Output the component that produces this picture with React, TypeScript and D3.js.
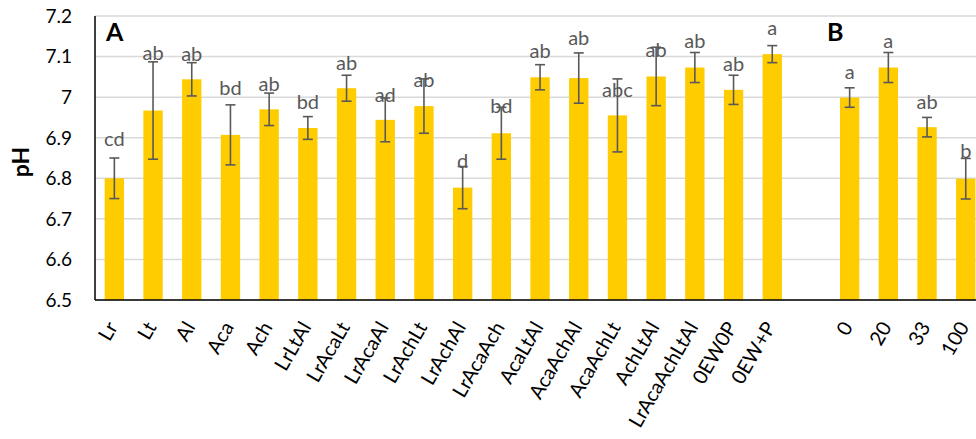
import React from 'react';
import * as d3 from 'd3';

const groupA = ['Lr','Lt','Al','Aca','Ach','LrLtAl','LrAcaLt','LrAcaAl','LrAchLt','LrAchAl','LrAcaAch','AcaLtAl','AcaAchAl','AcaAchLt','AchLtAl','LrAcaAchLtAl','0EW0P','0EW+P'];
const meansA = [6.80,6.967,7.044,6.907,6.970,6.924,7.022,6.944,6.978,6.777,6.911,7.049,7.047,6.955,7.051,7.073,7.018,7.106];
const errA = [0.05,0.12,0.041,0.074,0.04,0.028,0.032,0.054,0.067,0.052,0.064,0.031,0.062,0.09,0.072,0.037,0.036,0.021];
const lettersA = ['cd','ab','ab','bd','ab','bd','ab','ad','ab','d','bd','ab','ab','abc','ab','ab','ab','a'];
const letterLevelA = [6.880,7.092,7.089,7.005,7.015,6.971,7.067,6.989,7.024,6.826,6.960,7.096,7.129,7.001,7.100,7.120,7.065,7.153];

const groupB = ['0','20','33','100'];
const meansB = [6.999,7.073,6.926,6.799];
const errB = [0.024,0.037,0.024,0.05];
const lettersB = ['a','a','ab','b'];
const letterLevelB = [7.045,7.120,6.972,6.849];

const yTicks = [6.5,6.6,6.7,6.8,6.9,7.0,7.1,7.2];
const panelLabels = ['A','B'];
const yTitle = 'pH';

const W = 976, H = 439;
const left = 95, top = 16, bottom = 300;
const step = 38.7;
const FONT = 'Lato, "Open Sans", sans-serif';

export default function App() {
  const gapKey = '__gap__';
  const domain = [...groupA, gapKey, ...groupB];
  const x = d3.scaleBand<string>().domain(domain).range([left, left + step * domain.length]).paddingInner(0.5).paddingOuter(0.25);
  const y = d3.scaleLinear().domain([6.5, 7.2]).range([bottom, top]);
  const bars = [
    ...groupA.map((c, i) => ({ c, v: meansA[i], e: errA[i], l: lettersA[i], ly: letterLevelA[i] })),
    ...groupB.map((c, i) => ({ c, v: meansB[i], e: errB[i], l: lettersB[i], ly: letterLevelB[i] })),
  ];
  const bw = x.bandwidth();
  const xRight = left + step * domain.length;
  return (
    <div style={{ position: 'fixed', left: 0, top: 0 }}>
      <svg width={W} height={H} style={{ display: 'block', background: '#fff' }} fontFamily={FONT}>
        {yTicks.map(t => (
          <line key={'g' + t} x1={left} x2={xRight} y1={y(t)} y2={y(t)} stroke="#d9d9d9" strokeWidth={1.5} />
        ))}
        {yTicks.map(t => (
          <text key={'t' + t} x={72} y={y(t)} dy="0.36em" textAnchor="end" fontSize={19} fill="#000">{String(+t.toFixed(1))}</text>
        ))}
        {bars.map(b => (
          <rect key={'b' + b.c} x={x(b.c)} y={y(b.v)} width={bw} height={y(6.5) - y(b.v)} fill="#ffcc00" />
        ))}
        {bars.map(b => {
          const cx = (x(b.c) as number) + bw / 2;
          return (
            <g key={'e' + b.c} stroke="#595959" strokeWidth={1.6}>
              <line x1={cx} x2={cx} y1={y(b.v + b.e)} y2={y(b.v - b.e)} />
              <line x1={cx - 5} x2={cx + 5} y1={y(b.v + b.e)} y2={y(b.v + b.e)} />
              <line x1={cx - 5} x2={cx + 5} y1={y(b.v - b.e)} y2={y(b.v - b.e)} />
            </g>
          );
        })}
        {bars.map(b => {
          const cx = (x(b.c) as number) + bw / 2;
          return (
            <text key={'l' + b.c} x={cx} y={y(b.ly)} textAnchor="middle" fontSize={20} fill="#595959">{b.l}</text>
          );
        })}
        <line x1={left} x2={left} y1={top} y2={bottom} stroke="#000" strokeWidth={1.5} />
        <line x1={left} x2={xRight} y1={bottom} y2={bottom} stroke="#000" strokeWidth={1.5} />
        {bars.map(b => {
          const cx = (x(b.c) as number) + bw / 2;
          return (
            <text key={'x' + b.c} transform={`translate(${cx + 4},${327}) rotate(-60)`} textAnchor="end" fontSize={20} fill="#000">{b.c}</text>
          );
        })}
        <text transform={`translate(28.5,162) rotate(-90)`} textAnchor="middle" fontSize={23} fontWeight="bold" fill="#000">{yTitle}</text>
        <text x={106} y={41} fontSize={25} fontWeight="bold" fill="#000">{panelLabels[0]}</text>
        <text x={827} y={41} fontSize={25} fontWeight="bold" fill="#000">{panelLabels[1]}</text>
      </svg>
    </div>
  );
}
